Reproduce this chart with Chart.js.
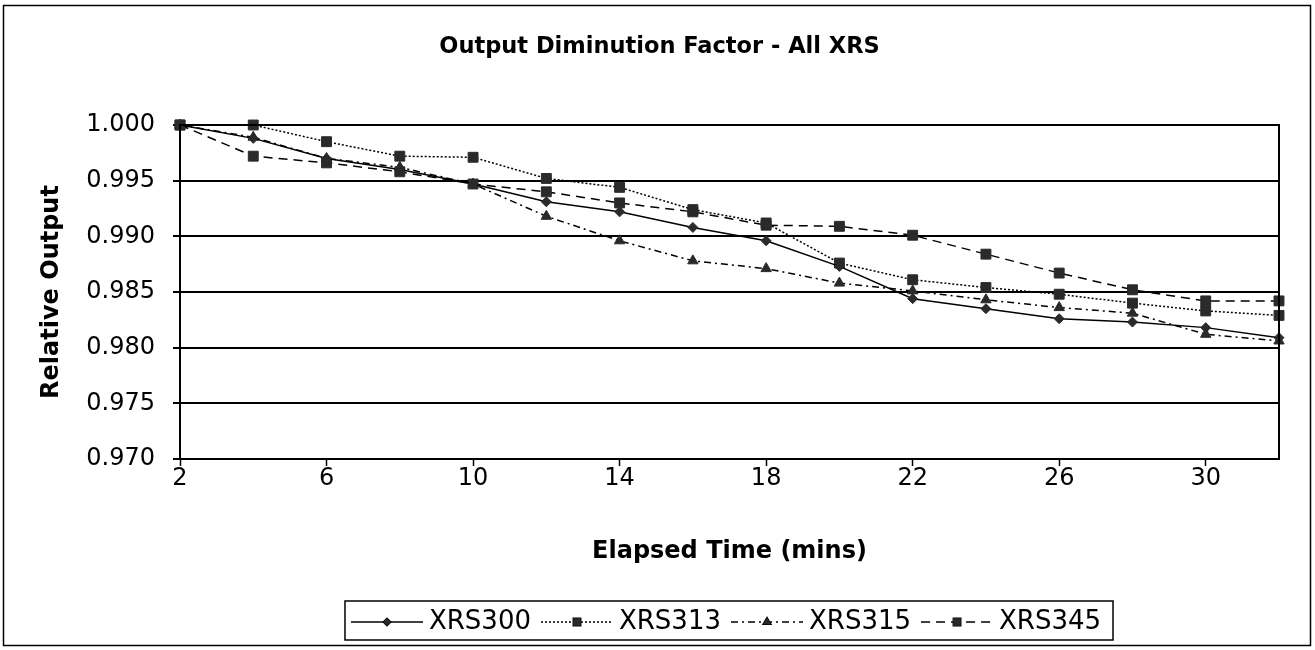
<!DOCTYPE html>
<html>
<head>
<meta charset="utf-8">
<title>Output Diminution Factor - All XRS</title>
<script src="https://cdn.jsdelivr.net/npm/chart.js@4.4.1/dist/chart.umd.min.js"></script>
<style>
    html, body { margin: 0; padding: 0; background: #fff; }
    #wrap { width: 1315px; height: 650px; }
</style>
</head>
<body>
<div id="wrap"><canvas id="xrsChart" width="1315" height="650"></canvas></div>
<script>
        // Elapsed time categories (mins) and relative output per unit
        const times = ['2', '4', '6', '8', '10', '12', '14', '16', '18', '20', '22', '24', '26', '28', '30', '32'];
        const xrs300 = [1.0000, 0.9988, 0.9970, 0.9960, 0.9947, 0.9931, 0.9922, 0.9908, 0.9896, 0.9873, 0.9844, 0.9835, 0.9826, 0.9823, 0.9818, 0.9809];
        const xrs313 = [1.0000, 1.0000, 0.9985, 0.9972, 0.9971, 0.9952, 0.9944, 0.9924, 0.9912, 0.9876, 0.9861, 0.9854, 0.9848, 0.9840, 0.9833, 0.9829];
        const xrs315 = [1.0000, 0.9989, 0.9970, 0.9962, 0.9947, 0.9918, 0.9896, 0.9878, 0.9871, 0.9858, 0.9851, 0.9843, 0.9836, 0.9831, 0.9812, 0.9806];
        const xrs345 = [1.0000, 0.9972, 0.9966, 0.9958, 0.9947, 0.9940, 0.9930, 0.9922, 0.9910, 0.9909, 0.9901, 0.9884, 0.9867, 0.9852, 0.9842, 0.9842];
        const seriesNames = ['XRS300', 'XRS313', 'XRS315', 'XRS345'];
        const yTicks = ['0.970', '0.975', '0.980', '0.985', '0.990', '0.995', '1.000'];

        const FONT = 'DejaVu Sans';
        const INK = '#000';
        const MARK = '#2a2a2a';

        const styles = [
            { dash: [], point: 'rectRot', radius: 5 },
            { dash: [2, 2], point: 'rect', radius: 7 },
            { dash: [7, 4, 2, 4], point: 'triangle', radius: 6 },
            { dash: [9, 6], point: 'rect', radius: 7 }
        ];

        // small canvas with line + marker, used as legend sample
        function legendSample(st) {
            const c = document.createElement('canvas');
            c.width = 72;
            c.height = 18;
            const g = c.getContext('2d');
            g.strokeStyle = INK;
            g.lineWidth = 1.5;
            g.setLineDash(st.dash);
            g.beginPath();
            g.moveTo(0, 9);
            g.lineTo(72, 9);
            g.stroke();
            g.setLineDash([]);
            g.fillStyle = MARK;
            Chart.helpers.drawPoint(g, { pointStyle: st.point, radius: st.radius * 0.75, borderWidth: 1 }, 36, 9);
            g.fill();
            return c;
        }

        // outer frame, plot frame and legend frame
        const framePlugin = {
            id: 'frames',
            afterDraw(chart) {
                const ctx = chart.ctx;
                const a = chart.chartArea;
                ctx.save();
                ctx.strokeStyle = INK;
                ctx.lineWidth = 2;
                ctx.strokeRect(a.left, a.top, a.right - a.left, a.bottom - a.top);
                ctx.lineWidth = 1.5;
                ctx.strokeRect(3.5, 5.5, 1307, 640);
                const boxes = chart.legend.legendHitBoxes;
                if (boxes && boxes.length) {
                    const l = boxes[0].left - 13;
                    const last = boxes[boxes.length - 1];
                    const r = last.left + last.width + 12;
                    ctx.strokeRect(l, 601, r - l, 39);
                }
                ctx.restore();
            }
        };

        function createChart() {
            const ctx = document.getElementById('xrsChart').getContext('2d');
            const values = [xrs300, xrs313, xrs315, xrs345];
            const datasets = values.map((v, i) => ({
                label: seriesNames[i],
                data: v,
                borderColor: INK,
                borderWidth: 1.5,
                borderDash: styles[i].dash,
                pointStyle: styles[i].point,
                pointRadius: styles[i].radius,
                pointBackgroundColor: MARK,
                pointBorderColor: MARK,
                pointBorderWidth: 1,
                tension: 0,
                clip: false
            }));

            new Chart(ctx, {
                type: 'line',
                data: { labels: times, datasets: datasets },
                options: {
                    responsive: false,
                    animation: false,
                    layout: { padding: { left: 20, right: 16, top: 0, bottom: 5 } },
                    scales: {
                        x: {
                            type: 'category',
                            offset: false,
                            border: { display: true, color: INK, width: 2 },
                            grid: {
                                drawOnChartArea: false,
                                drawTicks: true,
                                tickLength: 7,
                                tickColor: c => (c.index % 2 === 0 ? INK : 'rgba(0,0,0,0)'),
                                tickWidth: 1.5
                            },
                            ticks: {
                                autoSkip: false,
                                maxRotation: 0,
                                padding: -2,
                                color: INK,
                                font: { family: FONT, size: 24 },
                                callback: function (val, i) {
                                    return i % 2 === 0 ? times[i] : '';
                                }
                            },
                            title: {
                                display: true,
                                text: 'Elapsed Time (mins)',
                                color: INK,
                                font: { family: FONT, size: 24, weight: 'bold' },
                                padding: { top: 0, bottom: 25.5 }
                            },
                            afterFit: function (scale) { scale.height = 133; }
                        },
                        y: {
                            min: 0.970,
                            max: 1.000,
                            border: { display: true, color: INK, width: 2 },
                            grid: { color: INK, lineWidth: 2, tickLength: 7 },
                            ticks: {
                                stepSize: 0.005,
                                padding: 18,
                                color: INK,
                                font: { family: FONT, size: 24 },
                                callback: function (value) {
                                    const s = value.toFixed(3);
                                    return yTicks.includes(s) ? s : '';
                                }
                            },
                            title: {
                                display: true,
                                text: 'Relative Output',
                                color: INK,
                                font: { family: FONT, size: 24, weight: 'bold' },
                                padding: { top: 17, bottom: 0 }
                            },
                            afterFit: function (scale) { scale.width = 160; }
                        },
                        // empty right axis, only keeps the plot clear of the frame
                        yRight: {
                            position: 'right',
                            min: 0.970,
                            max: 1.000,
                            display: true,
                            border: { display: false },
                            grid: { drawOnChartArea: false, drawTicks: false },
                            ticks: { display: false },
                            afterFit: function (scale) { scale.width = 20; }
                        }
                    },
                    plugins: {
                        title: {
                            display: true,
                            text: 'Output Diminution Factor - All XRS',
                            color: INK,
                            font: { family: FONT, size: 22.5, weight: 'bold' },
                            padding: { top: 34, bottom: 64 }
                        },
                        legend: {
                            position: 'bottom',
                            fullSize: false,
                            labels: {
                                usePointStyle: true,
                                pointStyleWidth: 58,
                                padding: 17,
                                color: INK,
                                font: { family: FONT, size: 26 },
                                generateLabels: function (chart) {
                                    const items = Chart.defaults.plugins.legend.labels.generateLabels(chart);
                                    items.forEach((it, i) => {
                                        it.pointStyle = legendSample(styles[i]);
                                    });
                                    return items;
                                }
                            }
                        },
                        tooltip: { enabled: false }
                    }
                },
                plugins: [framePlugin]
            });
        }

        document.addEventListener('DOMContentLoaded', function () {
            createChart();
        });
</script>
</body>
</html>
